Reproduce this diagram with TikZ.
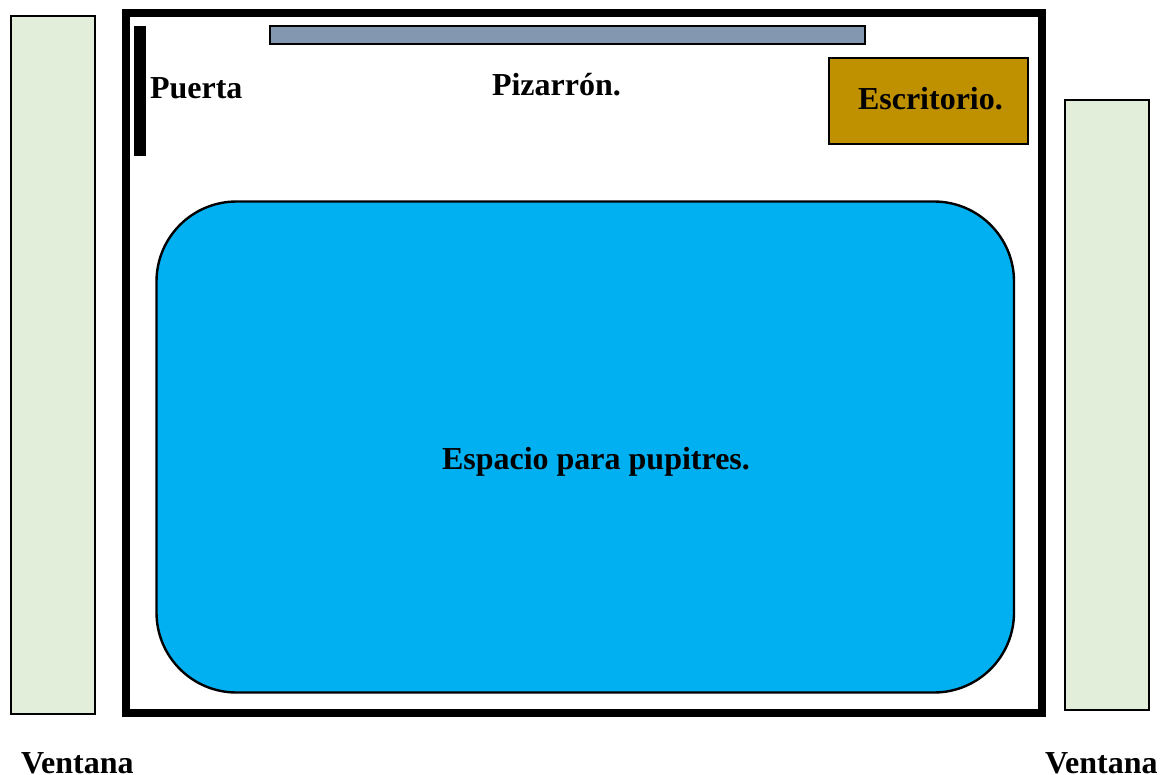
\documentclass[tikz,border=0pt]{standalone}
\usepackage{fontspec}
\setmainfont{Liberation Serif}
\definecolor{ventanacol}{HTML}{E2EEDA}
\definecolor{pizarracol}{HTML}{8497B0}
\definecolor{escritoriocol}{HTML}{BF9000}
\definecolor{pupitrecol}{HTML}{00B0F0}
\tikzset{
  plano/.style={draw=black,line width=2pt},
  etiqueta/.style={anchor=base west,inner sep=0pt,outer sep=0pt,font=\fontsize{32}{36}\selectfont\bfseries,text=black}
}
\begin{document}
\begin{tikzpicture}[x=1pt,y=-1pt]
\useasboundingbox (0,0) rectangle (1172,774);
\fill[white] (0,0) rectangle (1172,774);
\draw[black,line width=8pt] (126,13) rectangle (1042.2,713);
\draw[plano,fill=ventanacol] (10.5,15.5) rectangle (95.2,714);
\draw[plano,fill=ventanacol] (1064.5,99.5) rectangle (1149.4,710);
\draw[plano,fill=pizarracol] (270,25.5) rectangle (864.8,43.5);
\fill[black] (134.3,26) rectangle (146.3,156.3);
\draw[plano,fill=escritoriocol] (828.7,57.7) rectangle (1028.3,144.3);
\draw[draw=black,line width=2.4pt,fill=pupitrecol,rounded corners=80pt] (156.5,201.5) rectangle (1014,692.5);
\node[etiqueta] (puerta) at (150,98.7) {Puerta};
\node[etiqueta] (pizarron) at (492,95.7) {Pizarrón.};
\node[etiqueta] (escritorio) at (858,109.7) {Escritorio.};
\node[etiqueta] (espacio) at (442,469.7) {Espacio para pupitres.};
\node[etiqueta] (ventanaA) at (21,773) {Ventana};
\node[etiqueta] (ventanaB) at (1045,773) {Ventana};
\end{tikzpicture}
\end{document}
